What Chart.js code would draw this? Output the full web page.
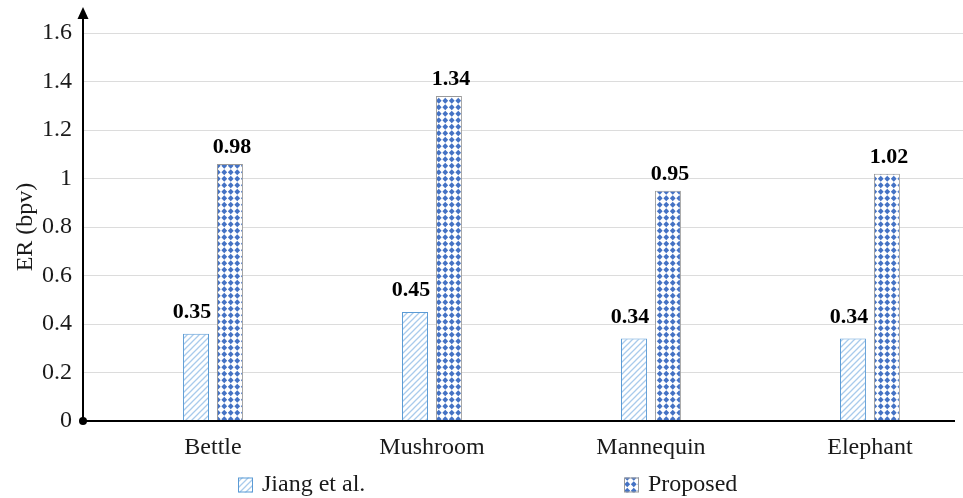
<!DOCTYPE html>
<html>
<head>
<meta charset="utf-8">
<script src="https://cdn.jsdelivr.net/npm/chart.js@4/dist/chart.umd.min.js"></script>
<style>
  html, body { margin: 0; padding: 0; background: #fff; }
  #wrap { width: 963px; height: 498px; position: relative; }
</style>
</head>
<body>
<div id="wrap"><canvas id="c" width="963" height="498"></canvas></div>
<script>
// ---- data ----
const categories = ['Bettle', 'Mushroom', 'Mannequin', 'Elephant'];
const seriesNames = ['Jiang et al.', 'Proposed'];
const jiangValues = [0.36, 0.45, 0.34, 0.34];
const proposedValues = [1.06, 1.34, 0.95, 1.02];
const jiangLabels = ['0.35', '0.45', '0.34', '0.34'];
const proposedLabels = ['0.98', '1.34', '0.95', '1.02'];
const yTicks = [0, 0.2, 0.4, 0.6, 0.8, 1, 1.2, 1.4, 1.6];

const SERIF = '"Liberation Serif", "Times New Roman", serif';

function makeHatch() {
  const c = document.createElement('canvas');
  c.width = 6; c.height = 6;
  const x = c.getContext('2d');
  x.fillStyle = '#ffffff'; x.fillRect(0, 0, 6, 6);
  x.strokeStyle = '#a9cbec'; x.lineWidth = 1.3;
  x.beginPath();
  x.moveTo(0, 6); x.lineTo(6, 0);
  x.moveTo(-1, 1); x.lineTo(1, -1);
  x.moveTo(5, 7); x.lineTo(7, 5);
  x.stroke();
  return x.createPattern(c, 'repeat');
}
function makeDiamonds() {
  const c = document.createElement('canvas');
  c.width = 13; c.height = 13;
  const x = c.getContext('2d');
  x.fillStyle = '#ffffff'; x.fillRect(0, 0, 13, 13);
  x.fillStyle = '#4472c4';
  [[3.25, 3.25], [9.75, 3.25], [3.25, 9.75], [9.75, 9.75]].forEach(([cx, cy]) => {
    x.beginPath();
    x.moveTo(cx, cy - 3.1); x.lineTo(cx + 2.9, cy); x.lineTo(cx, cy + 3.1); x.lineTo(cx - 2.9, cy);
    x.closePath(); x.fill();
  });
  return x.createPattern(c, 'repeat');
}
const hatch = makeHatch();
const diamonds = makeDiamonds();
const seriesFill = [hatch, diamonds];
const seriesBorder = ['#5b9bd5', '#9a9a9a'];

const labelPlugin = {
  id: 'valueLabels',
  afterDatasetsDraw(chart) {
    const ctx = chart.ctx;
    ctx.save();
    ctx.font = 'bold 22px ' + SERIF;
    ctx.fillStyle = '#000';
    ctx.textAlign = 'center';
    ctx.textBaseline = 'alphabetic';
    const sets = [{ labels: jiangLabels, dx: -4, gap: 16 }, { labels: proposedLabels, dx: 2, gap: 11 }];
    sets.forEach((s, di) => {
      const meta = chart.getDatasetMeta(di);
      meta.data.forEach((bar, i) => {
        ctx.fillText(s.labels[i], bar.x + s.dx, bar.y - s.gap);
      });
    });
    ctx.restore();
  }
};

const axesPlugin = {
  id: 'axesDraw',
  afterDatasetsDraw(chart) {
    const { ctx, chartArea: a } = chart;
    const x0 = a.left, y0 = a.bottom;
    ctx.save();
    ctx.strokeStyle = '#000'; ctx.fillStyle = '#000'; ctx.lineWidth = 2;
    ctx.beginPath();
    ctx.moveTo(x0, y0); ctx.lineTo(955, y0);
    ctx.moveTo(x0, y0); ctx.lineTo(x0, 16);
    ctx.stroke();
    ctx.beginPath();
    ctx.moveTo(x0, 7); ctx.lineTo(x0 + 5.5, 19); ctx.lineTo(x0 - 5.5, 19); ctx.closePath();
    ctx.fill();
    ctx.beginPath(); ctx.arc(x0, y0, 4, 0, Math.PI * 2); ctx.fill();
    ctx.restore();
  }
};

const legendPlugin = {
  id: 'customLegend',
  afterDraw(chart) {
    const ctx = chart.ctx;
    const xs = [238, 624];
    const yMid = 485;
    ctx.save();
    ctx.font = '24px ' + SERIF;
    ctx.textBaseline = 'middle';
    ctx.textAlign = 'left';
    seriesNames.forEach((name, i) => {
      ctx.fillStyle = seriesFill[i];
      ctx.fillRect(xs[i], yMid - 7.5, 15, 15);
      ctx.strokeStyle = seriesBorder[i]; ctx.lineWidth = 1;
      ctx.strokeRect(xs[i] + 0.5, yMid - 7, 14, 14);
      ctx.fillStyle = '#1a1a1a';
      ctx.fillText(name, xs[i] + 24, yMid);
    });
    ctx.restore();
  }
};

new Chart(document.getElementById('c'), {
  type: 'bar',
  data: {
    datasets: [
      {
        label: seriesNames[0],
        data: categories.map((c, i) => ({ x: i, y: jiangValues[i] })),
        backgroundColor: hatch,
        borderColor: seriesBorder[0],
        borderWidth: 1,
        categoryPercentage: 0.31,
        barPercentage: 0.765
      },
      {
        label: seriesNames[1],
        data: categories.map((c, i) => ({ x: i, y: proposedValues[i] })),
        backgroundColor: diamonds,
        borderColor: seriesBorder[1],
        borderWidth: 1,
        categoryPercentage: 0.31,
        barPercentage: 0.765
      }
    ]
  },
  options: {
    responsive: false,
    animation: false,
    layout: { padding: { top: 33, right: 0, left: 0, bottom: 0 } },
    plugins: { legend: { display: false }, tooltip: { enabled: false } },
    scales: {
      x: {
        type: 'linear',
        min: -0.5936,
        max: 3.425,
        offset: false,
        grid: { display: false, drawTicks: false },
        border: { display: false },
        afterBuildTicks: s => { s.ticks = categories.map((c, i) => ({ value: i })); },
        afterFit: s => { s.height = 77; },
        ticks: {
          autoSkip: false,
          maxRotation: 0,
          padding: 12,
          color: '#1a1a1a',
          font: { family: SERIF, size: 24 },
          callback: v => categories[v]
        }
      },
      y: {
        min: 0,
        max: 1.6,
        afterBuildTicks: s => { s.ticks = yTicks.map(v => ({ value: v })); },
        afterFit: s => { s.width = 83; },
        grid: {
          drawTicks: false,
          color: c => (c.tick && c.tick.value === 0) ? 'rgba(0,0,0,0)' : '#dcdcdc',
          lineWidth: 1
        },
        border: { display: false },
        ticks: {
          padding: 11,
          color: '#1a1a1a',
          font: { family: SERIF, size: 24 },
          callback: v => String(Number(v.toFixed(1)))
        },
        title: {
          display: true,
          text: 'ER (bpv)',
          color: '#1a1a1a',
          font: { family: SERIF, size: 24 },
          padding: { top: 11, bottom: 0 }
        }
      }
    }
  },
  plugins: [labelPlugin, axesPlugin, legendPlugin]
});
</script>
</body>
</html>
